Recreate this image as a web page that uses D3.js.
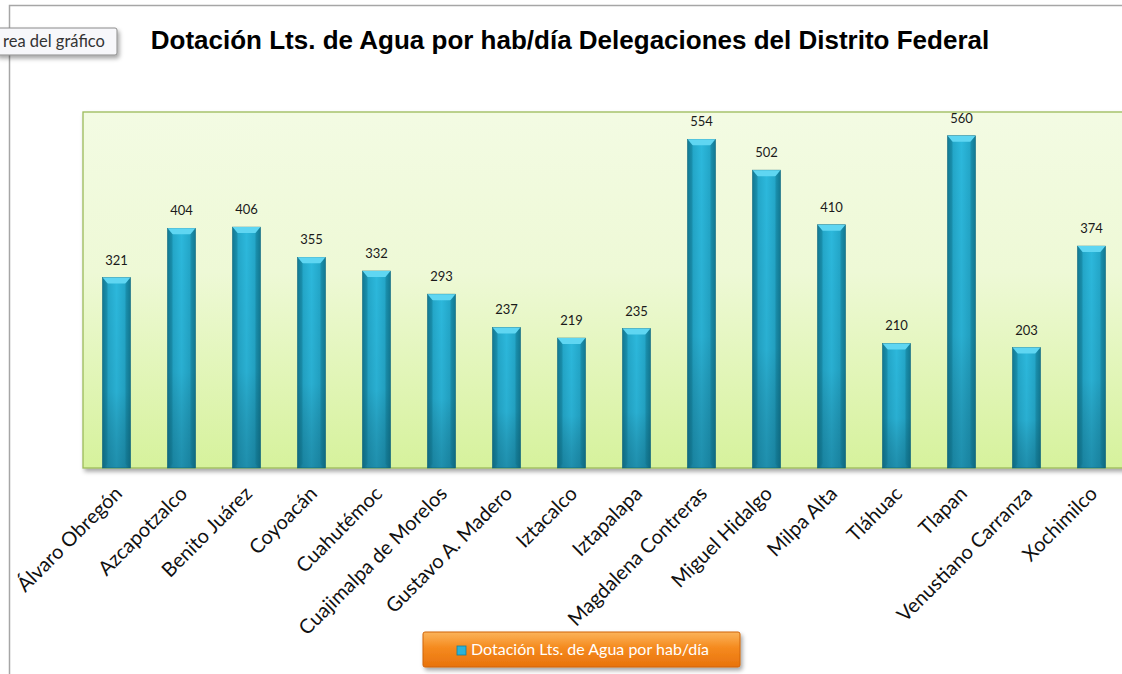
<!DOCTYPE html>
<html>
<head>
<meta charset="utf-8">
<script src="https://cdn.jsdelivr.net/npm/d3@7"></script>
<style>
  body { margin: 0; background: #fff; }
  svg { display: block; }
</style>
</head>
<body>
<svg id="chart"></svg>
<script>
const categories = ['Álvaro Obregón', 'Azcapotzalco', 'Benito Juárez', 'Coyoacán', 'Cuahutémoc',
  'Cuajimalpa de Morelos', 'Gustavo A. Madero', 'Iztacalco', 'Iztapalapa', 'Magdalena Contreras',
  'Miguel Hidalgo', 'Milpa Alta', 'Tláhuac', 'Tlapan', 'Venustiano Carranza', 'Xochimilco']
const values = [321, 404, 406, 355, 332, 293, 237, 219, 235, 554, 502, 410, 210, 560, 203, 374]
const seriesName = 'Dotación Lts. de Agua por hab/día'
const title = 'Dotación Lts. de Agua por hab/día Delegaciones del Distrito Federal'
const yMax = 600

const W = 1122, H = 674
const plot = { left: 84, right: 1124, top: 112, bottom: 468 }

const svg = d3.select('#chart').attr('width', W).attr('height', H)
const defs = svg.append('defs')

// plot area fill
const bg = defs.append('linearGradient').attr('id', 'bg').attr('x1', 0).attr('y1', 0).attr('x2', 0).attr('y2', 1)
bg.append('stop').attr('offset', 0).attr('stop-color', '#f3fbe3')
bg.append('stop').attr('offset', 0.45).attr('stop-color', '#eef9d6')
bg.append('stop').attr('offset', 1).attr('stop-color', '#d6f29c')

// bar body, horizontal shading
const barG = defs.append('linearGradient').attr('id', 'barG').attr('x1', 0).attr('y1', 0).attr('x2', 1).attr('y2', 0)
barG.append('stop').attr('offset', 0).attr('stop-color', '#147d98')
barG.append('stop').attr('offset', 0.18).attr('stop-color', '#23a6c8')
barG.append('stop').attr('offset', 0.5).attr('stop-color', '#2cb8dc')
barG.append('stop').attr('offset', 0.82).attr('stop-color', '#23a6c8')
barG.append('stop').attr('offset', 1).attr('stop-color', '#147d98')

// darkening towards the bottom
const barV = defs.append('linearGradient').attr('id', 'barV').attr('x1', 0).attr('y1', 0).attr('x2', 0).attr('y2', 1)
barV.append('stop').attr('offset', 0).attr('stop-color', '#000').attr('stop-opacity', 0)
barV.append('stop').attr('offset', 0.6).attr('stop-color', '#000').attr('stop-opacity', 0.05)
barV.append('stop').attr('offset', 1).attr('stop-color', '#003040').attr('stop-opacity', 0.3)

const legG = defs.append('linearGradient').attr('id', 'legG').attr('x1', 0).attr('y1', 0).attr('x2', 0).attr('y2', 1)
legG.append('stop').attr('offset', 0).attr('stop-color', '#fbb45a')
legG.append('stop').attr('offset', 0.45).attr('stop-color', '#f58a1f')
legG.append('stop').attr('offset', 1).attr('stop-color', '#e8730c')

const shadow = defs.append('filter').attr('id', 'shadow').attr('x', '-10%').attr('y', '-10%').attr('width', '130%').attr('height', '140%')
shadow.append('feDropShadow').attr('dx', 2).attr('dy', 3).attr('stdDeviation', 2).attr('flood-color', '#000').attr('flood-opacity', 0.35)

// chart frame
svg.append('path').attr('d', `M9.5,${H} V5.5 H${W}`).attr('fill', 'none').attr('stroke', '#a6a6a6').attr('stroke-width', 1.5)

// title
svg.append('text')
  .attr('x', 570).attr('y', 49)
  .attr('text-anchor', 'middle')
  .style('font-family', 'Arial, "Liberation Sans", sans-serif')
  .style('font-weight', 'bold').style('font-size', '26px')
  .attr('fill', '#000')
  .text(title)

const x = d3.scaleBand().domain(categories).range([plot.left, plot.right]).paddingInner(0.57).paddingOuter(0.285)
const y = d3.scaleLinear().domain([0, yMax]).range([plot.bottom, plot.top])

// plot area
svg.append('rect')
  .attr('x', plot.left - 1).attr('y', plot.top)
  .attr('width', plot.right - plot.left + 2).attr('height', plot.bottom - plot.top)
  .attr('fill', 'url(#bg)').attr('stroke', '#9bbb59').attr('stroke-width', 1.3)
  .attr('filter', 'url(#shadow)')

const bw = x.bandwidth()
const bars = svg.append('g').selectAll('g').data(values).join('g')
  .attr('transform', (d, i) => `translate(${x(categories[i])},0)`)

bars.append('rect')
  .attr('x', 0).attr('y', (d) => y(d)).attr('width', bw).attr('height', (d) => y(0) - y(d))
  .attr('fill', 'url(#barG)').attr('stroke', '#1a6e83').attr('stroke-width', 0.6)
bars.append('rect')
  .attr('x', 0).attr('y', (d) => y(d)).attr('width', bw).attr('height', (d) => y(0) - y(d))
  .attr('fill', 'url(#barV)')
// top bevel
bars.append('path')
  .attr('d', (d) => `M0,${y(d)} H${bw} L${bw - 5},${y(d) + 6} H5 Z`)
  .attr('fill', '#5fd6f2')
bars.append('path')
  .attr('d', (d) => `M0,${y(d)} L5,${y(d) + 6} V${y(0) - 4} L0,${y(0)} Z`)
  .attr('fill', '#0f6f88').attr('opacity', 0.35)
bars.append('path')
  .attr('d', (d) => `M${bw},${y(d)} L${bw - 5},${y(d) + 6} V${y(0) - 4} L${bw},${y(0)} Z`)
  .attr('fill', '#0f6f88').attr('opacity', 0.35)

// data labels
svg.append('g').selectAll('text').data(values).join('text')
  .attr('x', (d, i) => x(categories[i]) + bw / 2)
  .attr('y', (d) => y(d) - 13)
  .attr('text-anchor', 'middle')
  .style('font-family', 'Lato, "Open Sans", sans-serif').style('font-size', '13px')
  .attr('fill', '#1a1a1a')
  .text((d) => d)

// category labels, rotated
svg.append('g').selectAll('text').data(categories).join('text')
  .attr('transform', (d) => `translate(${x(d) + bw / 2 + 2},${plot.bottom + 22}) rotate(-45)`)
  .attr('text-anchor', 'end')
  .attr('dy', '0.35em')
  .style('font-family', 'Lato, "Open Sans", sans-serif').style('font-size', '20px')
  .attr('fill', '#111')
  .text((d) => d)

// tooltip box
const tip = svg.append('g').attr('transform', 'translate(0,28)')
tip.append('rect').attr('x', -4).attr('y', 0).attr('width', 121).attr('height', 27).attr('rx', 2)
  .attr('fill', '#f7f7fa').attr('stroke', '#8a8a8a').attr('filter', 'url(#shadow)')
tip.append('text').attr('x', 3).attr('y', 19)
  .style('font-family', 'Lato, "Open Sans", sans-serif').style('font-size', '16.5px').attr('fill', '#333')
  .text('rea del gráfico')

// legend
const leg = svg.append('g').attr('transform', 'translate(423,632)')
leg.append('rect').attr('width', 317).attr('height', 35).attr('rx', 2)
  .attr('fill', 'url(#legG)').attr('stroke', '#d0650a').attr('filter', 'url(#shadow)')
leg.append('rect').attr('x', 34).attr('y', 14).attr('width', 9).attr('height', 9)
  .attr('fill', '#2ab3d8').attr('stroke', '#17809c').attr('stroke-width', 0.8)
leg.append('text').attr('x', 48).attr('y', 23)
  .style('font-family', 'Lato, "Open Sans", sans-serif').style('font-size', '16px').attr('fill', '#fff')
  .text(seriesName)
</script>
</body>
</html>
